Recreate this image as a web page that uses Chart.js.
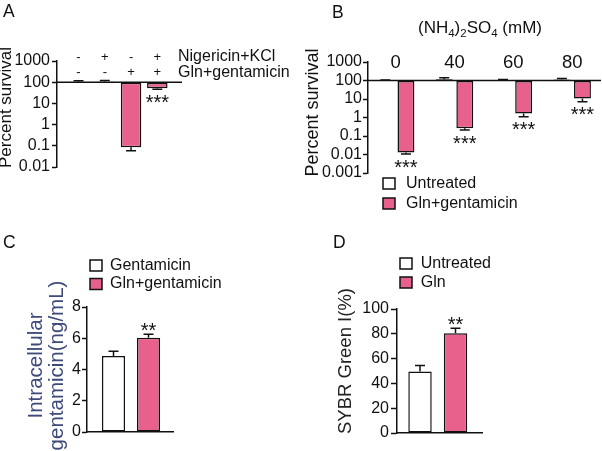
<!DOCTYPE html>
<html>
<head>
<meta charset="utf-8">
<script src="https://cdn.jsdelivr.net/npm/chart.js@4.4.1/dist/chart.umd.min.js"></script>
<style>
  body { margin: 0; background: #fff; }
  #wrap { position: relative; width: 602px; height: 451px; overflow: hidden; background: #fff; }
  canvas { position: absolute; }
</style>
</head>
<body>
<div id="wrap">
  <canvas id="chartA" width="300" height="230" style="left:0;top:0;width:300px;height:230px"></canvas>
  <canvas id="chartB" width="302" height="230" style="left:300px;top:0;width:302px;height:230px"></canvas>
  <canvas id="chartC" width="300" height="221" style="left:0;top:230px;width:300px;height:221px"></canvas>
  <canvas id="chartD" width="302" height="221" style="left:300px;top:230px;width:302px;height:221px"></canvas>
</div>
<script>
// panel A
const treatmentNames = ['Nigericin+KCl', 'Gln+gentamicin'];
const treatNigericin = ['-', '+', '-', '+'];
const treatGln = ['-', '-', '+', '+'];
const survivalA = [105, 108, 0.085, 52];
const survivalErrA = [118, 120, 0.058, 46];
const starsA = ['', '', '', '***'];
const logTicksA = [0.01, 0.1, 1, 10, 100, 1000];

// panel B
const ammoniumConc = ['0', '40', '60', '80'];
const legendB = ['Untreated', 'Gln+gentamicin'];
const untreatedB = [102, 118, 108, 115];
const untreatedErrB = [106, 140, 115, 128];
const glnGentB = [0.013, 0.26, 1.65, 10.5];
const glnGentErrB = [0.0105, 0.21, 1.1, 7];
const starsB = ['***', '***', '***', '***'];
const logTicksB = [0.001, 0.01, 0.1, 1, 10, 100, 1000];

// panel C
const groupsC = ['Gentamicin', 'Gln+gentamicin'];
const gentamicinC = [4.86, 6.03];
const gentamicinErrC = [5.17, 6.25];
const starsC = ['', '**'];
const ticksC = [0, 2, 4, 6, 8];

// panel D
const groupsD = ['Untreated', 'Gln'];
const sybrD = [49.5, 80.5];
const sybrErrD = [54.5, 84.5];
const starsD = ['', '**'];
const ticksD = [0, 20, 40, 60, 80, 100];

const PINK = '#e8618c';
const WHITE = '#ffffff';
const INK = '#111111';
const FAMILY = "'Liberation Sans', Arial, sans-serif";

Chart.defaults.font.family = FAMILY;
Chart.defaults.color = INK;

function font(size) {
    return size + 'px ' + FAMILY;
}

function text(ctx, str, x, y, size, align, baseline, color) {
    ctx.save();
    ctx.font = font(size);
    ctx.fillStyle = color || INK;
    ctx.textAlign = align || 'left';
    ctx.textBaseline = baseline || 'alphabetic';
    ctx.fillText(str, x, y);
    ctx.restore();
}

function drawRotated(ctx, lines, cx, cy, size, color, gap) {
    ctx.save();
    ctx.translate(cx, cy);
    ctx.rotate(-Math.PI / 2);
    ctx.font = font(size);
    ctx.fillStyle = color;
    ctx.textAlign = 'center';
    ctx.textBaseline = 'middle';
    lines.forEach((t, i) => ctx.fillText(t, 0, i * gap));
    ctx.restore();
}

function drawLegend(ctx, labels, colors, x, y0, gap, textX) {
    labels.forEach((label, i) => {
        const cy = y0 + i * gap;
        ctx.save();
        ctx.fillStyle = colors[i];
        ctx.fillRect(x, cy - 5.5, 12, 11);
        ctx.strokeStyle = INK;
        ctx.lineWidth = 1.5;
        ctx.strokeRect(x, cy - 5.5, 12, 11);
        ctx.restore();
        text(ctx, label, textX, cy, 16, 'left', 'middle');
    });
}

// horizontal line at 100 % survival
const hundredLine = {
    id: 'hundredLine',
    afterDatasetsDraw(chart) {
        const {ctx, chartArea, scales} = chart;
        const y = scales.y.getPixelForValue(100);
        ctx.save();
        ctx.strokeStyle = INK;
        ctx.lineWidth = 1.5;
        ctx.beginPath();
        ctx.moveTo(chartArea.left, y);
        ctx.lineTo(chartArea.right, y);
        ctx.stroke();
        ctx.restore();
    }
};

const errorBars = {
    id: 'errorBars',
    afterDatasetsDraw(chart) {
        const ctx = chart.ctx;
        const yScale = chart.scales.y;
        chart.data.datasets.forEach((ds, di) => {
            chart.getDatasetMeta(di).data.forEach((bar, i) => {
                const end = yScale.getPixelForValue(ds.errorEnds[i]);
                const down = end > bar.base;
                ctx.save();
                ctx.strokeStyle = INK;
                ctx.lineWidth = 1.5;
                ctx.beginPath();
                ctx.moveTo(bar.x, bar.y);
                ctx.lineTo(bar.x, end);
                ctx.moveTo(bar.x - 5, end);
                ctx.lineTo(bar.x + 5, end);
                ctx.stroke();
                ctx.restore();
                const s = ds.stars[i];
                if (s) {
                    const mid = down ? end + 8.5 : end - 8;
                    text(ctx, s, bar.x, mid + 11, 20, 'center');
                }
            });
        });
    }
};

function yAxis(type, width, tickValues, tickLength, tickPad) {
    return {
        type: type,
        min: tickValues[0],
        max: tickValues[tickValues.length - 1],
        afterFit: s => { s.width = width; },
        afterBuildTicks: s => { s.ticks = tickValues.map(v => ({ value: v })); },
        grid: { drawOnChartArea: false, tickLength: tickLength, tickWidth: 1.5, tickColor: INK },
        border: { color: INK, width: 1.5 },
        ticks: { color: INK, font: { size: 16 }, padding: tickPad, autoSkip: false, callback: v => String(v) }
    };
}

function xAxis(count, min, max, show) {
    return {
        type: 'linear',
        min: min,
        max: max,
        offset: false,
        display: show,
        afterFit: s => { s.height = 0; },
        // one tick per bar position so the bar width follows the bar spacing
        afterBuildTicks: s => { s.ticks = Array.from({ length: count }, (_, i) => ({ value: i + 1 })); },
        grid: { display: false, offset: false },
        ticks: { display: false },
        border: { color: INK, width: 1.5 }
    };
}

function points(values) {
    return values.map((v, i) => ({ x: i + 1, y: v }));
}

function baseOptions(pad, x, y) {
    return {
        responsive: false,
        animation: false,
        layout: { padding: pad },
        plugins: { legend: { display: false }, tooltip: { enabled: false } },
        scales: { x: x, y: y }
    };
}

// ---------- A ----------
new Chart(document.getElementById('chartA'), {
    type: 'bar',
    data: {
        datasets: [{
            data: points(survivalA),
            base: 100,
            backgroundColor: treatGln.map(s => s === '+' ? PINK : WHITE),
            borderColor: INK,
            borderWidth: 1.5,
            borderSkipped: false,
            categoryPercentage: 0.78,
            barPercentage: 1,
            errorEnds: survivalErrA,
            stars: starsA
        }]
    },
    options: baseOptions({ left: 0, right: 118, top: 61, bottom: 63 },
        xAxis(survivalA.length, 0.18, 4.94, false),
        yAxis('logarithmic', 57, logTicksA, 5, 2)),
    plugins: [hundredLine, errorBars, {
        id: 'decorA',
        afterDraw(chart) {
            const ctx = chart.ctx;
            const xs = chart.scales.x;
            text(ctx, 'A', 3, 17.3, 17.5);
            drawRotated(ctx, ['Percent survival'], 6.5, 107.5, 17, INK, 0);
            treatNigericin.forEach((s, i) => text(ctx, s, xs.getPixelForValue(i + 1), 57, 13, 'center', 'middle'));
            treatGln.forEach((s, i) => text(ctx, s, xs.getPixelForValue(i + 1), 72, 13, 'center', 'middle'));
            text(ctx, treatmentNames[0], 178, 60.7, 16);
            text(ctx, treatmentNames[1], 178, 76.7, 16);
        }
    }]
});

// ---------- B ----------
new Chart(document.getElementById('chartB'), {
    type: 'bar',
    data: {
        datasets: [{
            label: legendB[0],
            data: points(untreatedB),
            base: 100,
            backgroundColor: WHITE,
            borderColor: INK,
            borderWidth: 1.5,
            borderSkipped: false,
            categoryPercentage: 0.7,
            barPercentage: 0.82,
            errorEnds: untreatedErrB,
            stars: ['', '', '', '']
        }, {
            label: legendB[1],
            data: points(glnGentB),
            base: 100,
            backgroundColor: PINK,
            borderColor: INK,
            borderWidth: 1.5,
            borderSkipped: false,
            categoryPercentage: 0.7,
            barPercentage: 0.82,
            errorEnds: glnGentErrB,
            stars: starsB
        }]
    },
    options: baseOptions({ left: 0, right: 1, top: 62, bottom: 57 },
        xAxis(ammoniumConc.length, 0.53, 4.49, false),
        yAxis('logarithmic', 68, logTicksB, 5, 1)),
    plugins: [hundredLine, errorBars, {
        id: 'decorB',
        afterDraw(chart) {
            const ctx = chart.ctx;
            const xs = chart.scales.x;
            text(ctx, 'B', 32, 18.3, 17.5);
            drawRotated(ctx, ['Percent survival'], 13.5, 112.5, 18, INK, 0);
            // (NH4)2SO4 (mM)
            const parts = [['(NH', 0], ['4', 1], [')', 0], ['2', 1], ['SO', 0], ['4', 1], [' (mM)', 0]];
            let x = 118;
            ctx.save();
            parts.forEach(p => {
                ctx.font = font(p[1] ? 11.5 : 17);
                ctx.fillStyle = INK;
                ctx.textAlign = 'left';
                ctx.textBaseline = 'alphabetic';
                ctx.fillText(p[0], x, p[1] ? 36.5 : 33);
                x += ctx.measureText(p[0]).width;
            });
            ctx.restore();
            ammoniumConc.forEach((c, i) => text(ctx, c, xs.getPixelForValue(i + 1), 68.3, 18.5, 'center'));
            drawLegend(ctx, legendB, [WHITE, PINK], 83, 183.5, 20, 106);
        }
    }]
});

// ---------- C ----------
new Chart(document.getElementById('chartC'), {
    type: 'bar',
    data: {
        datasets: [{
            data: points(gentamicinC),
            backgroundColor: [WHITE, PINK],
            borderColor: INK,
            borderWidth: 1.5,
            borderSkipped: false,
            categoryPercentage: 0.66,
            barPercentage: 1,
            errorEnds: gentamicinErrC,
            stars: starsC
        }]
    },
    options: baseOptions({ left: 0, right: 127, top: 77, bottom: 19 },
        xAxis(gentamicinC.length, 0.243, 2.7, true),
        yAxis('linear', 87, ticksC, 5, 1)),
    plugins: [errorBars, {
        id: 'decorC',
        afterDraw(chart) {
            const ctx = chart.ctx;
            text(ctx, 'C', 3, 18.3, 17.5);
            drawRotated(ctx, ['Intracellular', 'gentamicin(ng/mL)'], 36, 135.5, 20.5, '#3e4b7a', 21);
            drawLegend(ctx, groupsC, [WHITE, PINK], 90, 35.5, 18.5, 110);
        }
    }]
});

// ---------- D ----------
new Chart(document.getElementById('chartD'), {
    type: 'bar',
    data: {
        datasets: [{
            data: points(sybrD),
            backgroundColor: [WHITE, PINK],
            borderColor: INK,
            borderWidth: 1.5,
            borderSkipped: false,
            categoryPercentage: 0.66,
            barPercentage: 1,
            errorEnds: sybrErrD,
            stars: starsD
        }]
    },
    options: baseOptions({ left: 0, right: 120, top: 79, bottom: 18 },
        xAxis(sybrD.length, 0.352, 2.746, true),
        yAxis('linear', 97, ticksD, 6, 2)),
    plugins: [errorBars, {
        id: 'decorD',
        afterDraw(chart) {
            const ctx = chart.ctx;
            text(ctx, 'D', 33, 18.3, 17.5);
            drawRotated(ctx, ['SYBR Green I(%)'], 46, 131, 18.5, '#222222', 0);
            drawLegend(ctx, groupsD, [WHITE, PINK], 100, 33.5, 19, 120.7);
        }
    }]
});
</script>
</body>
</html>
